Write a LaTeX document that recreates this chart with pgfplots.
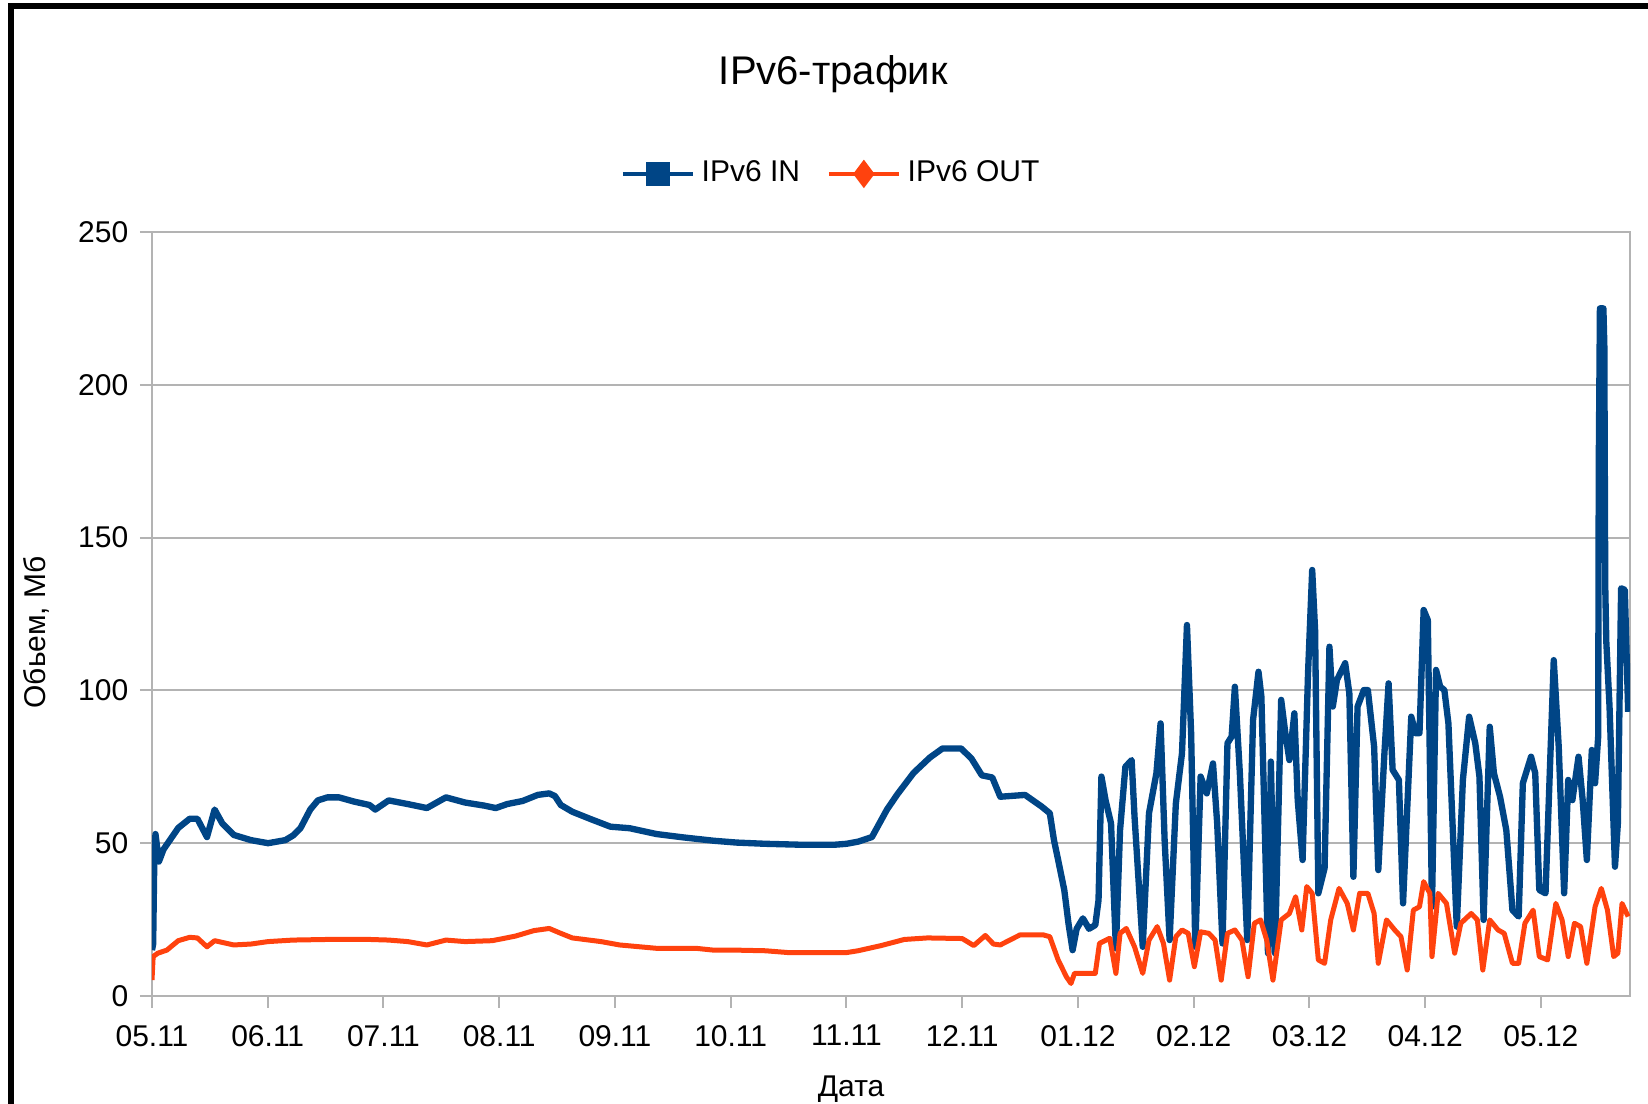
\documentclass[border=0pt]{standalone}
\usepackage{pgfplots}
\pgfplotsset{compat=1.18}
\usepackage{fontspec}
\setmainfont{Liberation Sans}
\definecolor{inC}{HTML}{004586}
\definecolor{outC}{HTML}{FF420E}
\definecolor{gridC}{HTML}{B3B3B3}
\begin{document}
\begin{tikzpicture}
\useasboundingbox (0,0) rectangle (494.4pt,331.2pt);
\draw[black, line width=1.8pt] (3.3pt,0pt) -- (3.3pt,329.4pt) -- (494.4pt,329.4pt);
\begin{axis}[
  at={(45.6pt,32.4pt)}, anchor=south west,
  scale only axis, width=443.4pt, height=229.2pt,
  xmin=0, xmax=12.77, ymin=0, ymax=250,
  axis line style={gridC, line width=0.6pt},
  xtick={0,1,2,3,4,5,6,7,8,9,10,11,12},
  xticklabels={05.11,06.11,07.11,08.11,09.11,10.11,11.11,12.11,01.12,02.12,03.12,04.12,05.12},
  ytick={0,50,100,150,200,250},
  ymajorgrids, major grid style={gridC, line width=0.6pt},
  tick align=outside, major tick length=3.6pt,
  tick style={gridC, line width=0.6pt},
  xtick pos=bottom, ytick pos=left,
  /pgf/number format/assume math mode=true,
  tick label style={font=\fontsize{9}{10}\selectfont, text=black},
  xticklabel style={yshift=-1.6pt},
  title={IPv6-трафик},
  title style={font=\fontsize{12}{14}\selectfont, at={(axis description cs:0.461,1.18)}, anchor=center},
  xlabel={Дата},
  xlabel style={font=\fontsize{9}{10}\selectfont, at={(axis description cs:0.473,-0.122)}, anchor=center},
  ylabel={Обьем, Мб},
  ylabel style={font=\fontsize{9}{10}\selectfont, at={(axis description cs:-0.078,0.476)}, anchor=center},
  legend columns=2,
  legend style={draw=none, fill=none, at={(axis description cs:0.461,1.076)}, anchor=center,
    font=\fontsize{9}{10}\selectfont, /tikz/every even column/.append style={column sep=6pt}},
  legend image code/.code={\draw[mark repeat=2,mark phase=2,#1] plot coordinates {(0pt,0pt)(10.5pt,0pt)(21pt,0pt)};},
]
\addlegendimage{inC, line width=1.3pt, mark=square*, mark size=3pt, mark options={solid}}
\addlegendentry{IPv6 IN}
\addlegendimage{outC, line width=1.3pt, mark=diamond*, mark size=3.2pt, mark options={solid}}
\addlegendentry{IPv6 OUT}

\addplot[inC, line width=1.9pt, line join=round, forget plot] coordinates {
(0,15)(0.01,17)(0.02,45)(0.03,53)(0.05,47)(0.06,44)(0.1,48)(0.227,55)(0.326,58)(0.392,58)(0.475,52)(0.541,61)(0.607,56.5)(0.706,52.7)(0.855,51)(1.003,50)(1.152,51)(1.218,52.5)(1.284,55)(1.367,61)(1.433,64)(1.516,65)(1.615,65)(1.747,63.6)(1.879,62.5)(1.929,61)(2.045,64)(2.21,62.8)(2.375,61.5)(2.54,65)(2.705,63.3)(2.87,62.3)(2.97,61.5)(3.069,62.8)(3.201,63.8)(3.333,65.8)(3.432,66.3)(3.482,65.4)(3.532,62.5)(3.631,60.3)(3.796,57.8)(3.961,55.4)(4.127,54.9)(4.358,53)(4.589,51.9)(4.853,50.8)(5.052,50.2)
(5.3,49.8)(5.6,49.5)(5.9,49.5)(6.0,49.8)(6.1,50.5)(6.22,52)(6.35,61)(6.44,66)(6.58,73)(6.72,78)(6.83,81)(6.99,81)(7.08,77.7)(7.17,72.2)(7.26,71.5)(7.329,65.2)
(7.543,65.8)(7.686,62)(7.757,59.8)(7.793,51)(7.829,44.5)(7.882,34.7)(7.918,23.8)(7.954,15)(7.989,22)(8.043,25.4)(8.096,22)(8.150,23.2)(8.178,31.4)(8.203,71.8)(8.239,64)(8.286,56.5)(8.328,15.6)(8.364,54.3)(8.410,75)(8.464,77.2)(8.489,58.7)(8.560,16.1)(8.614,59.8)(8.678,72.9)(8.714,89.2)(8.749,51)(8.792,18.3)(8.846,63)(8.899,79.4)(8.942,121.4)(8.978,86)(9.014,16.1)(9.060,71.8)(9.113,66.3)(9.167,76.1)(9.203,56.5)(9.249,17.2)(9.292,82.7)(9.328,84.9)(9.356,101.2)(9.399,72.9)(9.463,18.3)(9.513,90.3)(9.560,106.1)(9.585,98)(9.642,14)(9.667,76.7)(9.702,14)(9.756,96.9)(9.792,86)(9.827,77.2)(9.870,92.5)(9.899,64.1)(9.941,44.5)(9.988,105.6)(10.024,139.4)(10.049,119.8)(10.077,33.6)(10.131,41.8)(10.173,114.3)(10.202,94.7)(10.238,103.4)(10.309,108.9)(10.345,99)(10.380,39)(10.416,94.7)(10.470,100.1)(10.505,100.1)(10.559,81.6)(10.595,41.2)(10.648,79.4)(10.684,102.3)(10.719,74)(10.773,70.7)(10.809,30.3)(10.880,91.4)(10.916,86)(10.951,86)(10.987,126.3)(11.023,123)(11.059,29.2)(11.094,106.7)(11.130,101.2)(11.166,100.1)(11.201,89.2)(11.273,22.7)(11.326,70.7)(11.380,91.4)(11.433,82.7)(11.469,71.8)(11.505,24.9)(11.558,88.1)(11.594,72.9)(11.647,65.2)(11.701,54.3)(11.754,28.1)(11.808,26)(11.844,69.6)(11.915,78.3)(11.951,72.9)(11.986,34.7)(12.040,33.6)(12.111,109.9)(12.154,81.6)(12.201,33.6)(12.236,70.7)(12.272,64.1)(12.325,78.3)(12.361,64.1)(12.397,44.5)(12.440,80.5)(12.468,69.6)(12.495,84.9)(12.50,174)(12.51,225)(12.54,225)(12.548,213)(12.556,134)(12.565,116)(12.593,94.7)(12.64,42.3)(12.665,56.5)(12.693,133.4)(12.725,132.9)(12.754,93)
};

\addplot[outC, line width=1.5pt, line join=round, forget plot] coordinates {
(0,5.2)(0.01,12.9)(0.05,14)(0.128,15)(0.227,18.1)(0.326,19.2)(0.392,19)(0.475,16.1)(0.541,18.1)(0.706,16.7)(0.855,17)(1.003,17.8)(1.218,18.3)(1.516,18.5)(1.879,18.5)(2.045,18.3)(2.21,17.8)(2.375,16.7)(2.54,18.3)(2.705,17.8)(2.94,18.1)(3.14,19.6)(3.3,21.4)(3.432,22.1)(3.532,20.5)(3.631,19)(3.88,17.8)(4.04,16.7)(4.358,15.6)(4.7,15.6)(4.853,15)(5.052,15)
(5.3,14.8)(5.5,14.2)(6.0,14.2)(6.1,14.8)(6.3,16.5)(6.5,18.5)(6.7,19)(7.0,18.8)(7.1,16.5)(7.2,19.8)(7.27,17)(7.329,16.7)(7.5,20)(7.7,20)(7.757,19.4)(7.829,11.8)(7.9,6.3)(7.94,4.1)(7.97,7.4)(8.15,7.4)
(8.186,17.2)(8.275,18.9)(8.328,7.4)(8.364,20.5)(8.418,22.1)(8.489,16.1)(8.560,7.4)(8.614,18.3)(8.685,22.7)(8.739,17.2)(8.792,5.2)(8.846,19.4)(8.899,21.6)(8.953,20.5)(9.006,9.6)(9.060,21)(9.131,20.5)(9.185,18.3)(9.238,5.2)(9.292,20.5)(9.356,21.6)(9.417,18.3)(9.470,6.3)(9.524,23.8)(9.578,24.9)(9.631,18.3)(9.685,5.2)(9.756,24.9)(9.827,27)(9.881,32.5)(9.934,21.6)(9.977,35.8)(10.024,33.6)(10.077,11.8)(10.131,10.7)(10.184,24.9)(10.256,35.2)(10.327,30.3)(10.380,21.6)(10.434,33.6)(10.505,33.6)(10.559,27)(10.595,10.7)(10.666,24.9)(10.737,21.6)(10.791,19.4)(10.845,8.5)(10.898,28.1)(10.951,29.2)(10.987,37.4)(11.041,33.6)(11.059,12.9)(11.112,33.6)(11.184,30.3)(11.255,14)(11.308,23.8)(11.398,27)(11.451,24.9)(11.498,8.5)(11.558,24.9)(11.630,21.6)(11.683,20.5)(11.754,10.7)(11.808,10.7)(11.862,23.8)(11.933,28.1)(11.986,12.9)(12.058,11.8)(12.129,30.3)(12.183,24.9)(12.236,12.9)(12.290,23.8)(12.343,22.7)(12.397,10.7)(12.468,29.2)(12.522,35.2)(12.575,28.1)(12.629,12.9)(12.665,14)(12.701,30.3)(12.754,26)
};
\end{axis}
\end{tikzpicture}
\end{document}
